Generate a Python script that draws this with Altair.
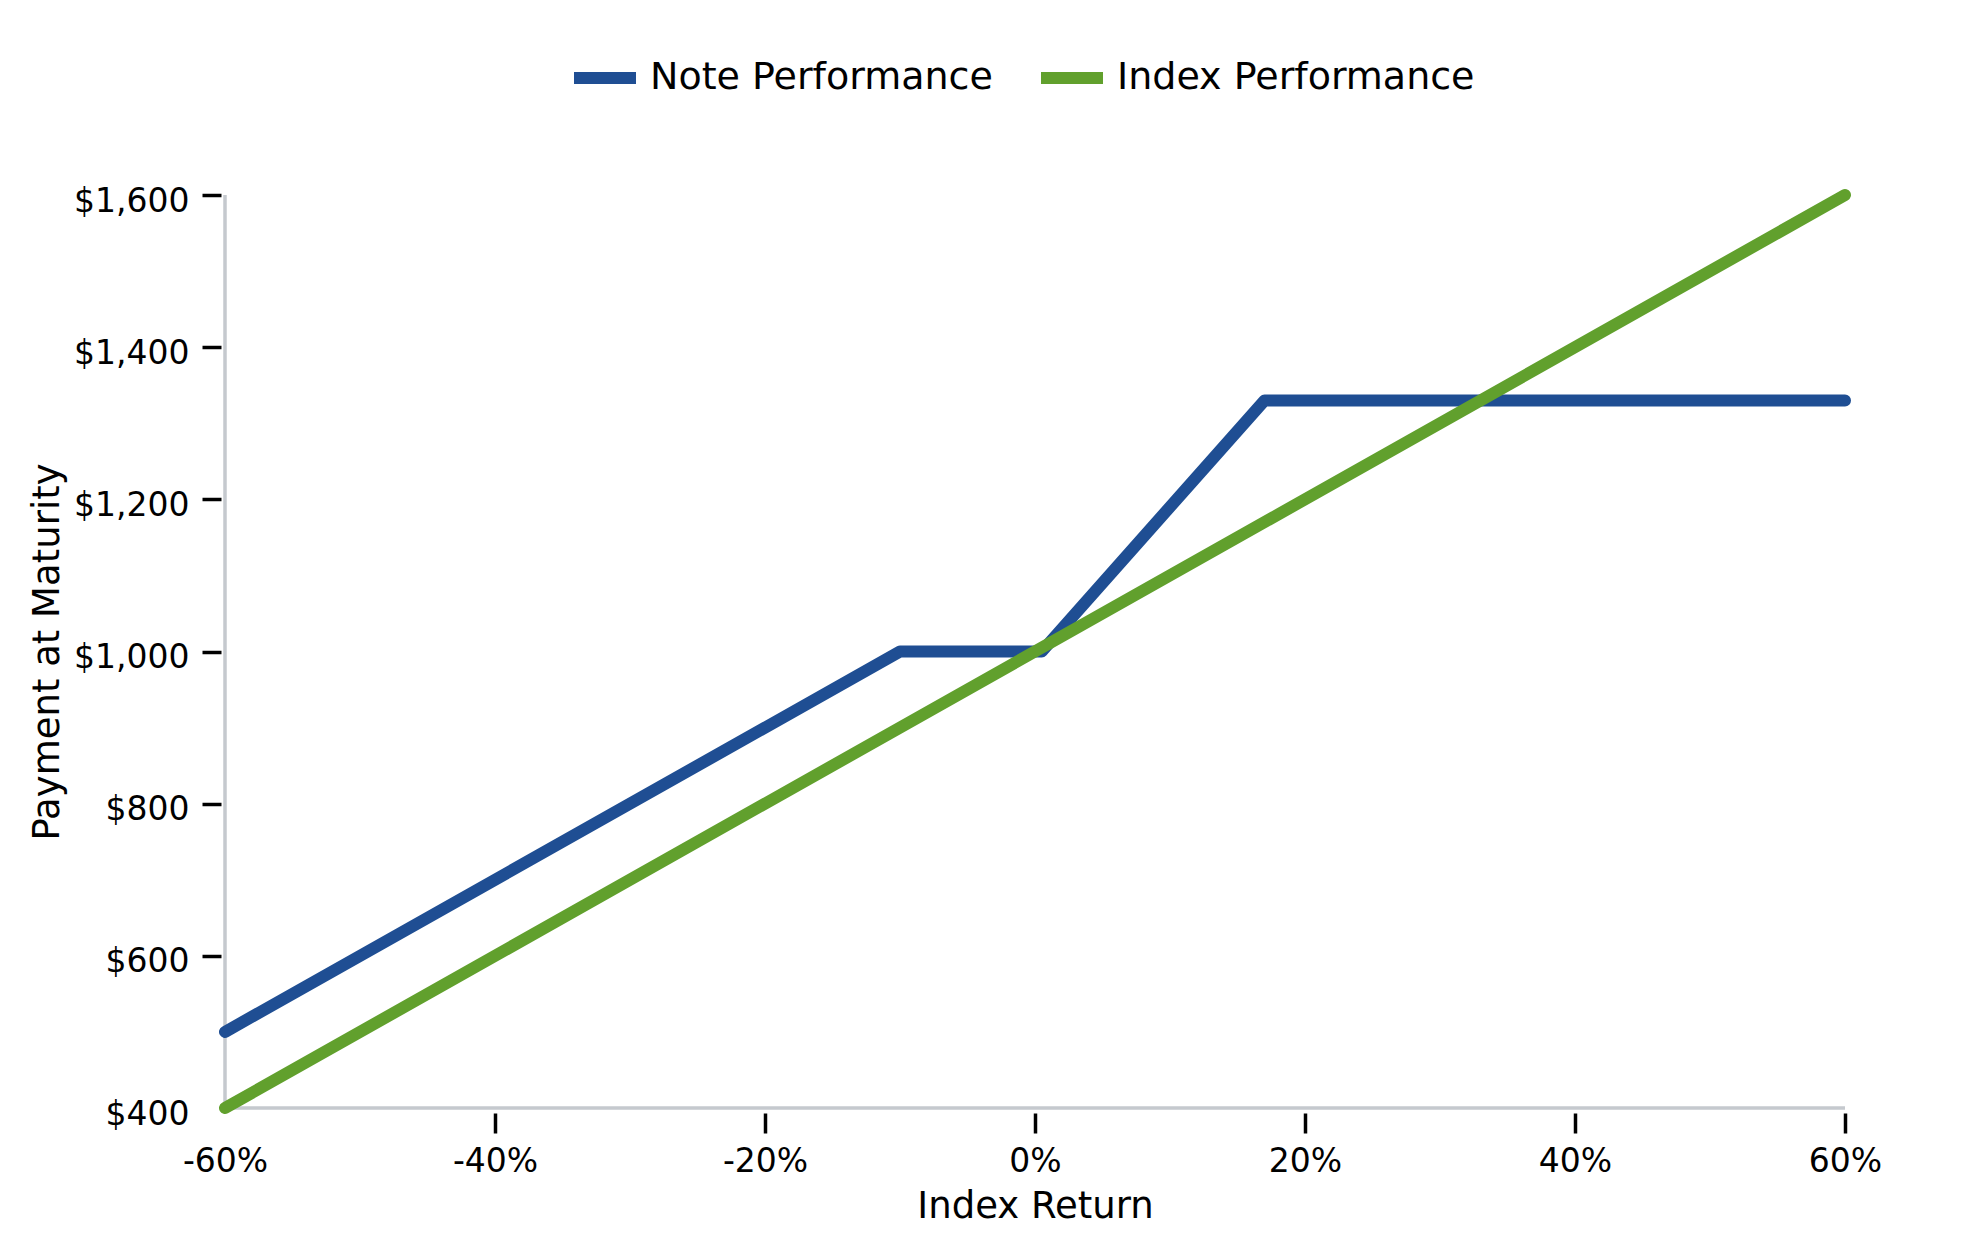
import altair as alt
import pandas as pd

# ---- data ----
series_names = ["Note Performance", "Index Performance"]
series_colors = ["#1F4E93", "#61A02D"]

note_return = [-60, -10, 0.5, 17, 60]
note_payment = [500, 1000, 1000, 1330, 1330]

index_return = [-60, 60]
index_payment = [400, 1600]

x_ticks = [-60, -40, -20, 0, 20, 40, 60]
y_ticks = [400, 600, 800, 1000, 1200, 1400, 1600]

frame_x0 = [-60, -60]
frame_x1 = [60, -60]
frame_y0 = [400, 400]
frame_y1 = [400, 1600]

# ---- build tables ----
rows = []
for i, (r, p) in enumerate(zip(note_return, note_payment)):
    rows.append({"ret": r, "pay": p, "series": series_names[0], "ord": i})
for i, (r, p) in enumerate(zip(index_return, index_payment)):
    rows.append({"ret": r, "pay": p, "series": series_names[1], "ord": i})
df = pd.DataFrame(rows)

frame_df = pd.DataFrame({"x0": frame_x0, "x1": frame_x1, "y0": frame_y0, "y1": frame_y1})

FONT = "DejaVu Sans"
GRAY = "#C5C9CE"

x_scale = alt.Scale(domain=[x_ticks[0], x_ticks[-1]], nice=False, zero=False)
y_scale = alt.Scale(domain=[y_ticks[0], y_ticks[-1]], nice=False, zero=False)

x_axis = alt.Axis(
    values=x_ticks,
    labelExpr="datum.value + '%'",
    domain=False,
    grid=False,
    offset=5,
    tickSize=20,
    tickWidth=3.5,
    tickColor={"condition": {"test": f"datum.value == {x_ticks[0]}", "value": "transparent"}, "value": "black"},
    labelFontSize=33,
    labelColor="black",
    labelPadding=12,
    labelFlush=False,
    labelOverlap=False,
    title="Index Return",
    titleFontSize=37,
    titleFontWeight="normal",
    titleColor="black",
    titlePadding=10,
)

y_axis = alt.Axis(
    values=y_ticks,
    format="$,.0f",
    domain=False,
    grid=False,
    offset=4,
    tickSize=19,
    tickWidth=3.5,
    tickColor={"condition": {"test": f"datum.value == {y_ticks[0]}", "value": "transparent"}, "value": "black"},
    labelFontSize=33,
    labelColor="black",
    labelPadding=13,
    labelOffset=6,
    labelFlush=False,
    labelOverlap=False,
    title="Payment at Maturity",
    titleFontSize=37,
    titleFontWeight="normal",
    titleColor="black",
    titlePadding=7,
)

frame_h = alt.Chart(frame_df).mark_rule(color=GRAY, strokeWidth=3.5).encode(
    x=alt.X("x0:Q", scale=x_scale, axis=x_axis),
    x2="x1:Q",
    y=alt.Y("y0:Q", scale=y_scale, axis=y_axis),
    y2="y1:Q",
)

lines = alt.Chart(df).mark_line(strokeWidth=12, strokeCap="round", strokeJoin="round").encode(
    x=alt.X("ret:Q", scale=x_scale, axis=x_axis),
    y=alt.Y("pay:Q", scale=y_scale, axis=y_axis),
    color=alt.Color(
        "series:N",
        scale=alt.Scale(domain=series_names, range=series_colors),
        sort=series_names,
        legend=alt.Legend(
            title=None,
            orient="none",
            legendX=343,
            legendY=-154,
            direction="horizontal",
            symbolType="stroke",
            symbolStrokeWidth=12,
            symbolSize=3844,
            labelFontSize=38,
            labelFont=FONT,
            labelColor="black",
            labelOffset=8,
            labelLimit=0,
            columnPadding=24,
        ),
    ),
    order="ord:Q",
)

chart = (
    alt.layer(frame_h, lines)
    .properties(
        width=1620,
        height=913,
        autosize=alt.AutoSizeParams(type="none"),
        padding={"left": 217, "top": 187, "right": 110, "bottom": 130},
    )
    .configure(font=FONT)
    .configure_view(stroke=None)
    .configure_axis(labelFont=FONT, titleFont=FONT)
)

chart.save("out.html", embed_options={"renderer": "svg", "actions": False})
